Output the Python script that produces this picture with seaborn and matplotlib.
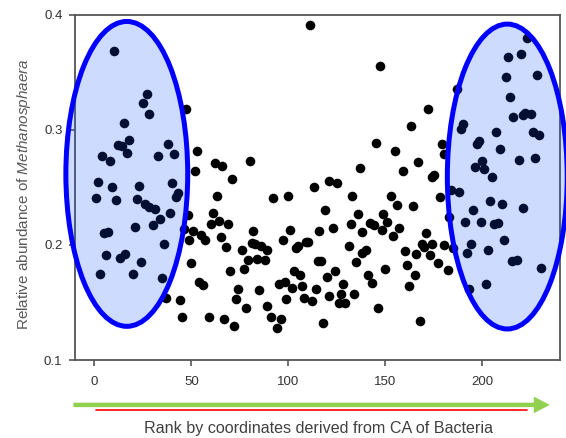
import matplotlib
matplotlib.use("Agg")
import matplotlib.pyplot as plt
import matplotlib.transforms as mtransforms
from matplotlib.patches import Ellipse, FancyArrowPatch
import seaborn as sns
import pandas as pd

# Rank (x) and relative abundance (y)
left_rank = [10, 27, 25, 28, 15, 18, 12, 14, 17, 38, 4, 8, 33, 41, 2, 9, 23, 40, 1, 11,
             22, 26, 28, 31, 34, 39, 42, 43, 30, 21, 5, 7, 36, 6, 13, 16, 24, 3, 20, 35, 37]
left_abund = [0.369, 0.331, 0.323, 0.314, 0.306, 0.291, 0.287, 0.286, 0.280, 0.288, 0.277,
              0.273, 0.277, 0.279, 0.255, 0.250, 0.251, 0.254, 0.241, 0.239, 0.240, 0.236,
              0.233, 0.231, 0.223, 0.228, 0.242, 0.245, 0.217, 0.216, 0.210, 0.211, 0.201,
              0.191, 0.189, 0.192, 0.185, 0.175, 0.175, 0.171, 0.154]

mid1_rank = [47, 53, 62, 66, 80, 52, 71, 63, 92, 48, 61, 64, 60, 69, 46, 51, 55, 57, 49, 65,
             82, 81, 83, 86, 89, 68, 76, 79, 84, 88, 50, 77, 70, 54, 56, 74, 85, 73, 44, 89,
             78, 45, 59, 67, 72]
mid1_abund = [0.318, 0.282, 0.271, 0.269, 0.273, 0.264, 0.257, 0.243, 0.241, 0.226, 0.228,
              0.221, 0.218, 0.218, 0.214, 0.212, 0.209, 0.204, 0.204, 0.207, 0.212, 0.202,
              0.201, 0.199, 0.196, 0.198, 0.196, 0.187, 0.188, 0.187, 0.184, 0.179, 0.177,
              0.168, 0.165, 0.162, 0.161, 0.153, 0.152, 0.147, 0.145, 0.137, 0.137, 0.136,
              0.130]

mid2_rank = [111, 137, 121, 125, 113, 100, 133, 119, 136, 132, 123, 138, 101, 116, 97, 105,
             104, 109, 110, 131, 115, 117, 135, 103, 106, 124, 120, 95, 98, 102, 107, 114,
             128, 121, 127, 126, 129, 134, 99, 108, 112, 91, 96, 94, 118]
mid2_abund = [0.391, 0.267, 0.256, 0.254, 0.250, 0.243, 0.243, 0.230, 0.227, 0.218, 0.215,
              0.211, 0.213, 0.212, 0.204, 0.199, 0.197, 0.203, 0.203, 0.199, 0.186, 0.186,
              0.185, 0.177, 0.174, 0.177, 0.172, 0.166, 0.168, 0.163, 0.164, 0.162, 0.166,
              0.156, 0.157, 0.150, 0.150, 0.157, 0.153, 0.154, 0.151, 0.137, 0.136, 0.128,
              0.132]

mid3_rank = [147, 172, 163, 145, 155, 179, 180, 167, 159, 175, 174, 153, 156, 164, 178, 149,
             142, 144, 151, 148, 157, 154, 171, 169, 170, 174, 180, 160, 166, 173, 138, 140,
             150, 161, 177, 182, 141, 165, 143, 162, 146, 168, 183, 185, 184]
mid3_abund = [0.356, 0.318, 0.303, 0.289, 0.282, 0.288, 0.279, 0.272, 0.264, 0.261, 0.259,
              0.243, 0.235, 0.234, 0.242, 0.227, 0.219, 0.217, 0.220, 0.213, 0.215, 0.208,
              0.210, 0.201, 0.198, 0.201, 0.200, 0.195, 0.192, 0.191, 0.193, 0.196, 0.179,
              0.183, 0.184, 0.178, 0.174, 0.174, 0.167, 0.164, 0.145, 0.134, 0.224, 0.197,
              0.248]

right_rank = [223, 220, 213, 212, 228, 187, 214, 216, 222, 221, 225, 190, 189, 207, 226, 229,
              198, 197, 209, 200, 196, 201, 219, 227, 205, 188, 204, 210, 195, 221, 191, 199,
              206, 208, 211, 194, 192, 203, 215, 218, 230, 202, 193]
right_abund = [0.380, 0.366, 0.363, 0.346, 0.348, 0.336, 0.329, 0.311, 0.315, 0.313, 0.314,
               0.305, 0.301, 0.298, 0.298, 0.296, 0.290, 0.288, 0.283, 0.273, 0.268, 0.266,
               0.274, 0.276, 0.259, 0.246, 0.238, 0.236, 0.230, 0.232, 0.220, 0.220, 0.218,
               0.219, 0.204, 0.201, 0.193, 0.196, 0.186, 0.187, 0.180, 0.166, 0.162]

x_ticks = [0, 50, 100, 150, 200]
y_ticks = [0.1, 0.2, 0.3, 0.4]
y_tick_labels = ["0.1", "0.2", "0.3", "0.4"]

df = pd.DataFrame({
    "rank": left_rank + mid1_rank + mid2_rank + mid3_rank + right_rank,
    "abundance": left_abund + mid1_abund + mid2_abund + mid3_abund + right_abund,
})

sns.set_style("ticks")
plt.rcParams["font.family"] = ["Liberation Sans", "DejaVu Sans"]
plt.rcParams["mathtext.fontset"] = "custom"
plt.rcParams["mathtext.rm"] = "Liberation Sans"
plt.rcParams["mathtext.it"] = "Liberation Sans:italic"

fig = plt.figure(figsize=(5.66, 4.38), dpi=100)
ax = fig.add_axes([0.1325, 0.178, 0.857, 0.788])

sns.scatterplot(data=df, x="rank", y="abundance", color="black", s=48,
                linewidth=0, ax=ax, zorder=2)

ax.set_xlim(-10, 240)
ax.set_ylim(0.1, 0.4)
ax.set_xticks(x_ticks)
ax.set_yticks(y_ticks)
ax.set_yticklabels(y_tick_labels)

for side in ["left", "right", "top", "bottom"]:
    ax.spines[side].set_visible(True)
    ax.spines[side].set_color("#555555")
    ax.spines[side].set_linewidth(1.3)

ax.tick_params(axis="both", direction="out", length=4.5, width=1.2,
               color="#555555", labelcolor="#333333", labelsize=9.5,
               bottom=True, left=True, top=False, right=False)
ax.tick_params(axis="x", pad=7)
ax.tick_params(axis="y", pad=4.5)

ax.set_ylabel("Relative abundance of $\\mathit{Methanosphaera}$",
              fontsize=11, color="#595959")
ax.yaxis.set_label_coords(-0.087, 0.48)
ax.set_xlabel("Rank by coordinates derived from CA of Bacteria",
              fontsize=11.6, color="#404040")
ax.xaxis.set_label_coords(0.503, -0.178)

# highlighted groups at both ends of the ranking
for cx, cy, w, h in [(16.7, 0.2618, 62.8, 0.265), (212.8, 0.2595, 61.8, 0.265)]:
    ell = Ellipse((cx, cy), w, h, facecolor=(0.0, 0.31, 1.0, 0.2),
                  edgecolor="#0000ff", linewidth=3.6, zorder=3, clip_on=False)
    ax.add_patch(ell)

# green direction arrow with thin red line under the axis
trans = mtransforms.blended_transform_factory(ax.transData, ax.transAxes)
arrow = FancyArrowPatch((-10.8, -0.13), (234.7, -0.13), transform=trans,
                        arrowstyle="simple,head_length=11.5,head_width=12,tail_width=3.2",
                        mutation_scale=1, color="#92d050", linewidth=0,
                        shrinkA=0, shrinkB=0, clip_on=False)
ax.add_patch(arrow)
ax.plot([1, 222.8], [-0.145, -0.145], transform=trans, color="red",
        linewidth=1.2, clip_on=False, zorder=4)

fig.savefig("out.png", dpi=100)
